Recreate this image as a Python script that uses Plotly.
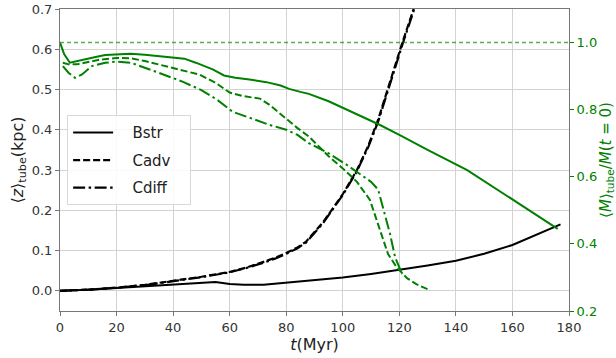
import plotly.graph_objects as go

# ---- data ----
t_bstr_z = [0, 5, 10, 20, 30, 40, 45, 50, 55, 60, 65, 72, 80, 90, 100, 110, 120, 130, 140, 150, 160, 170, 177]
z_bstr = [0.0, 0.001, 0.003, 0.007, 0.011, 0.015, 0.018, 0.02, 0.022, 0.017, 0.015, 0.015, 0.02, 0.026,
          0.033, 0.042, 0.052, 0.063, 0.075, 0.092, 0.114, 0.145, 0.165]

t_cadv_z = [0, 10, 20, 30, 40, 50, 60, 66, 72, 76, 80, 84, 87, 90, 93, 96.5, 100, 105, 109, 112.5, 116.7, 121, 126]
z_cadv = [0, 0.003, 0.008, 0.015, 0.025, 0.035, 0.047, 0.058, 0.072, 0.082, 0.094, 0.108, 0.122, 0.145,
          0.17, 0.205, 0.24, 0.30, 0.36, 0.425, 0.52, 0.615, 0.72]

t_cdiff_z = [0, 10, 20, 30, 40, 50, 60, 66, 72, 76, 80, 84, 87, 90, 93, 96.5, 100, 105, 109, 112.5, 116.7, 121, 126]
z_cdiff = [0, 0.003, 0.008, 0.014, 0.024, 0.034, 0.046, 0.057, 0.070, 0.080, 0.092, 0.106, 0.120, 0.143,
           0.168, 0.203, 0.238, 0.297, 0.357, 0.42, 0.515, 0.61, 0.715]

t_bstr_m = [0, 1.5, 3.5, 6, 9, 13, 16, 20, 25, 30, 35, 40, 44, 48, 51, 54, 58, 62, 67, 73, 78, 81, 85, 88,
            95, 101.5, 107, 113, 120, 130, 144, 155, 165, 173, 176]
m_bstr = [1.0, 0.965, 0.94, 0.945, 0.952, 0.958, 0.963, 0.965, 0.967, 0.964, 0.96, 0.956, 0.952, 0.94, 0.93,
          0.92, 0.902, 0.895, 0.89, 0.882, 0.872, 0.862, 0.853, 0.847, 0.825, 0.80, 0.78, 0.755, 0.725,
          0.68, 0.62, 0.56, 0.505, 0.463, 0.445]

t_cadv_m = [1, 3, 6, 10, 14, 20, 25, 30, 38, 44, 49.5, 55, 60, 65, 70.7, 74, 79, 84, 88, 95.5, 100, 105,
            109.6, 113, 116, 119, 122.7, 126, 130]
m_cadv = [0.94, 0.935, 0.935, 0.943, 0.949, 0.954, 0.953, 0.945, 0.928, 0.915, 0.904, 0.88, 0.851, 0.84,
          0.833, 0.815, 0.779, 0.745, 0.72, 0.657, 0.625, 0.585, 0.531, 0.442, 0.37, 0.331, 0.298, 0.28, 0.265]

t_cdiff_m = [1, 3, 5.3, 7.8, 11.3, 16, 20, 25, 32, 38, 43.5, 50, 55.5, 61, 67, 74, 80, 84, 88, 95, 101.5,
             106, 110, 112.5, 114.5, 116.7, 118.5, 121]
m_cdiff = [0.93, 0.91, 0.895, 0.905, 0.93, 0.94, 0.943, 0.94, 0.919, 0.9, 0.883, 0.858, 0.83, 0.794,
           0.775, 0.755, 0.74, 0.725, 0.70, 0.67, 0.635, 0.608, 0.585, 0.562, 0.50, 0.43, 0.36, 0.31]

t_ref = [0, 180]
m_ref = [1.0, 1.0]

series_names = ["Bstr", "Cadv", "Cdiff"]
x_ticks = [0, 20, 40, 60, 80, 100, 120, 140, 160, 180]
y_ticks = [0.0, 0.1, 0.2, 0.3, 0.4, 0.5, 0.6, 0.7]
y2_ticks = [0.2, 0.4, 0.6, 0.8, 1.0]

GREEN = "#008000"
DASH = "7px,3px"
DASHDOT = "12px,3.5px,2.5px,3.5px"
NB = "\u00a0\u00a0\u00a0"

fig = go.Figure()

# black: <z>_tube on left axis
fig.add_trace(go.Scatter(x=t_bstr_z, y=z_bstr, mode="lines", name=NB + series_names[0] + NB,
                         legendgroup="a", line=dict(color="black", width=2)))
fig.add_trace(go.Scatter(x=t_cadv_z, y=z_cadv, mode="lines", name=NB + series_names[1] + NB,
                         legendgroup="b", line=dict(color="black", width=2.2, dash=DASH)))
fig.add_trace(go.Scatter(x=t_cdiff_z, y=z_cdiff, mode="lines", name=NB + series_names[2] + NB,
                         legendgroup="c", line=dict(color="black", width=2.2, dash=DASHDOT)))

# green: mass fraction on right axis
fig.add_trace(go.Scatter(x=t_ref, y=m_ref, mode="lines", yaxis="y2", showlegend=False,
                         line=dict(color="rgba(0,128,0,0.65)", width=1.5, dash="4px,3px")))
fig.add_trace(go.Scatter(x=t_bstr_m, y=m_bstr, mode="lines", yaxis="y2", showlegend=False,
                         line=dict(color=GREEN, width=2)))
fig.add_trace(go.Scatter(x=t_cadv_m, y=m_cadv, mode="lines", yaxis="y2", showlegend=False,
                         line=dict(color=GREEN, width=2, dash=DASH)))
fig.add_trace(go.Scatter(x=t_cdiff_m, y=m_cdiff, mode="lines", yaxis="y2", showlegend=False,
                         line=dict(color=GREEN, width=2, dash=DASHDOT)))

fig.update_layout(
    width=616, height=358,
    margin=dict(l=60, r=47, t=9, b=47),
    paper_bgcolor="white", plot_bgcolor="white",
    font=dict(family="DejaVu Sans", size=13, color="#333"),
    showlegend=True,
    legend=dict(x=0.014, y=0.648, xanchor="left", yanchor="top",
                bgcolor="rgba(255,255,255,0.85)", bordercolor="#d8d8d8", borderwidth=1,
                font=dict(size=15, color="#222"), tracegroupgap=5, itemwidth=40),
    xaxis=dict(range=[0, 180], tickvals=x_ticks, ticktext=[str(v) for v in x_ticks],
               showgrid=True, gridcolor="#d3d3d3", gridwidth=1, zeroline=False,
               showline=True, linecolor="#777", linewidth=1, mirror=True,
               ticks="outside", ticklen=4, tickcolor="#777",
               tickfont=dict(size=13, color="#333"),
               title=dict(text="<i>t</i>(Myr)", font=dict(size=16, color="#222"), standoff=3),
               automargin=False),
    yaxis=dict(range=[-0.05, 0.7], tickvals=y_ticks, ticktext=[f"{v:.1f}" for v in y_ticks],
               showgrid=True, gridcolor="#d3d3d3", gridwidth=1, zeroline=False,
               showline=True, linecolor="#777", linewidth=1, mirror=True,
               ticks="outside", ticklen=4, tickcolor="#777",
               tickfont=dict(size=13, color="#333"),
               title=dict(text="⟨<i>z</i>⟩<sub>tube</sub>(kpc)", font=dict(size=16, color="#222"), standoff=4),
               automargin=False),
    yaxis2=dict(range=[0.2, 1.1], tickvals=y2_ticks, ticktext=[f"{v:.1f}" for v in y2_ticks],
                overlaying="y", side="right", showgrid=False, zeroline=False,
                showline=False, ticks="outside", ticklen=4, tickcolor=GREEN,
                tickfont=dict(size=13, color=GREEN),
                title=dict(text="⟨<i>M</i>⟩<sub>tube</sub>/<i>M</i>(<i>t</i> = 0)",
                           font=dict(size=15, color=GREEN), standoff=6),
                automargin=False),
)

fig.write_html("out.html")
